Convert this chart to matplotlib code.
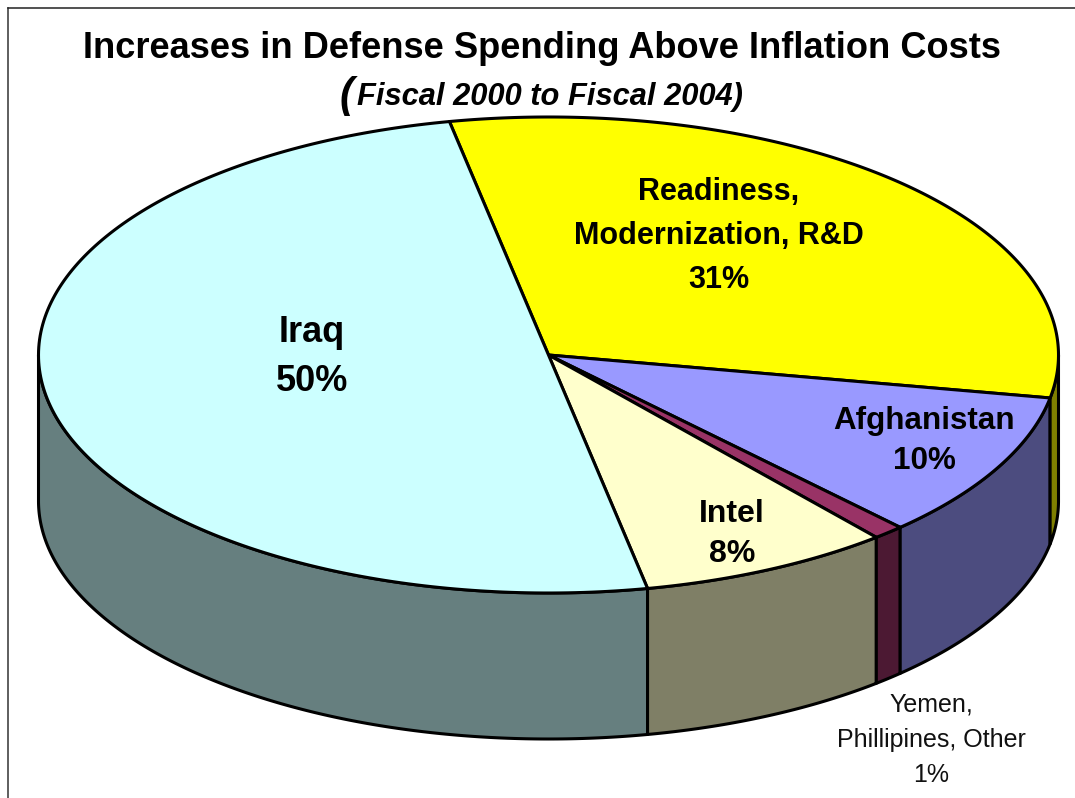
import numpy as np
import matplotlib
matplotlib.use("Agg")
import matplotlib.pyplot as plt
from matplotlib.lines import Line2D

# Share of the spending increase, clockwise from the Iraq / Readiness boundary
categories = ["Readiness", "Afghanistan", "Yemen", "Intel", "Iraq"]
shares = [31, 10, 1, 8, 50]
top_colors = ["#FFFF00", "#9999FF", "#993366", "#FFFFCC", "#CCFFFF"]
side_colors = ["#7F7F00", "#4C4C7F", "#4C1933", "#7F7F66", "#667F7F"]

title_text = "Increases in Defense Spending Above Inflation Costs"
subtitle_text = "Fiscal 2000 to Fiscal 2004)"

# Ellipse geometry of the tilted pie, in pixels
CX, CY, RX, RY = 548.5, 355.0, 510.0, 238.0
DEPTH = 146.0
START = 101.2
EDGE_LW = 2.2

plt.rcParams["font.family"] = ["Liberation Sans", "DejaVu Sans"]
fig = plt.figure(figsize=(10.75, 7.98), dpi=100, facecolor="white")
ax = fig.add_axes([0, 0, 1, 1])
ax.set_xlim(0, 1075)
ax.set_ylim(798, 0)
ax.axis("off")


def rim(t0, t1, drop=0.0):
    t = np.radians(np.linspace(t0, t1, 200))
    return CX + RX * np.cos(t), CY - RY * np.sin(t) + drop


# Slice boundaries in degrees, running clockwise
edges = START - np.cumsum([0] + shares) * 3.6

# Side walls: only the front half of the rim (below the horizontal) is visible
for i in range(len(shares) - 1, -1, -1):
    hi = min(edges[i], 0.0)
    lo = max(edges[i + 1], -180.0)
    x0, y0 = rim(hi, lo)
    x1, y1 = rim(lo, hi, DEPTH)
    ax.fill(np.r_[x0, x1], np.r_[y0, y1], facecolor=side_colors[i],
            edgecolor="black", lw=EDGE_LW, joinstyle="round", zorder=2)

# Top faces
for i, color in enumerate(top_colors):
    x, y = rim(edges[i], edges[i + 1])
    ax.fill(np.r_[CX, x], np.r_[CY, y], facecolor=color,
            edgecolor="black", lw=EDGE_LW, joinstyle="round", zorder=3)

# Frame lines along the top and left of the slide
ax.add_line(Line2D([7.5, 7.5], [798, 7.5], color="#333333", lw=1.1, zorder=1))
ax.add_line(Line2D([7.5, 1075], [7.5, 7.5], color="#222222", lw=1.1, zorder=1))

# Headings
ax.text(542, 48, title_text, fontsize=26.1, fontweight="bold", ha="center",
        va="center", color="black", zorder=5)
ax.text(357, 97, subtitle_text, fontsize=22.2, fontweight="bold", style="italic",
        ha="left", va="center", color="black", zorder=5)
ax.text(346, 96, "(", fontsize=30, fontweight="bold", style="italic",
        ha="center", va="center", color="black", zorder=5)

# Slice labels
ax.text(719, 236, "Readiness,\nModernization, R&D\n31%", fontsize=22,
        fontweight="bold", ha="center", va="center", linespacing=1.6, zorder=5)
ax.text(312, 357, "Iraq\n50%", fontsize=26, fontweight="bold", ha="center",
        va="center", linespacing=1.5, zorder=5)
ax.text(924, 441, "Afghanistan\n10%", fontsize=22.6, fontweight="bold",
        ha="center", va="center", linespacing=1.42, zorder=5)
ax.text(732, 534, "Intel\n8%", fontsize=23, fontweight="bold", ha="center",
        va="center", linespacing=1.42, zorder=5)
ax.text(931, 740, "Yemen,\nPhillipines, Other\n1%", fontsize=18, ha="center",
        va="center", linespacing=1.6, color="#111111", zorder=5)

fig.savefig("out.png", dpi=100)
